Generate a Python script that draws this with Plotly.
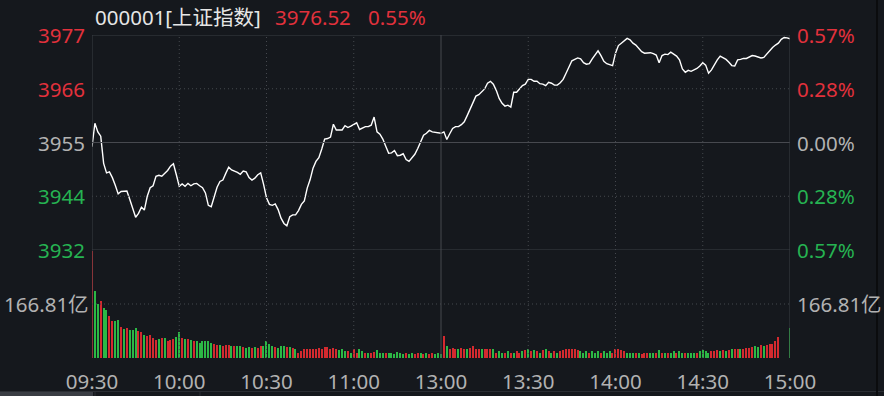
import plotly.graph_objects as go

# ---------------- data ----------------
prev_close = 3954.77
last_price = 3976.52
last_pct = "0.55%"
title_code = "000001[上证指数]"
vol_mid_label = "166.81亿"
vol_mid_value = 166.81

time_labels = ["09:30", "10:00", "10:30", "11:00", "13:00", "13:30", "14:00", "14:30", "15:00"]
time_ticks = [0, 30, 60, 90, 120, 150, 180, 210, 240]

price_labels = ["3977", "3966", "3955", "3944", "3932"]
pct_labels = ["0.57%", "0.28%", "0.00%", "0.28%", "0.57%"]
pct_levels = [0.0057, 0.00285, 0.0, -0.00285, -0.0057]

prices = [
    3953.9, 3958.8, 3957.0, 3956.1, 3950.4, 3948.4, 3948.6, 3947.4, 3945.8, 3944.0,
    3944.5, 3944.5, 3944.6, 3942.8, 3940.8, 3939.1, 3939.9, 3941.2, 3940.6, 3943.5,
    3945.3, 3945.7, 3947.7, 3947.9, 3947.7, 3948.2, 3948.9, 3949.8, 3950.3, 3948.0,
    3945.6, 3946.1, 3945.6, 3946.2, 3945.7, 3946.1, 3946.2, 3945.7, 3945.3, 3944.2,
    3941.6, 3941.3, 3943.2, 3945.4, 3946.6, 3946.9, 3948.3, 3949.6, 3949.0, 3948.8,
    3948.5, 3948.1, 3948.8, 3948.6, 3947.4, 3946.9, 3947.3, 3948.0, 3948.4, 3946.0,
    3943.2, 3941.8, 3941.6, 3941.9, 3940.7, 3938.9, 3937.8, 3937.3, 3939.2, 3939.6,
    3939.6, 3940.5, 3941.8, 3942.5, 3945.2, 3947.0, 3949.4, 3950.8, 3951.6, 3953.4,
    3955.5, 3955.6, 3955.9, 3958.6, 3957.4, 3957.4, 3957.4, 3958.3, 3957.9, 3958.2,
    3958.5, 3958.9, 3957.5, 3957.8, 3958.1, 3958.1, 3958.4, 3960.1, 3957.0, 3956.5,
    3955.5, 3954.0, 3952.5, 3952.6, 3953.1, 3952.0, 3952.1, 3952.4, 3951.2, 3950.8,
    3951.6, 3952.3, 3953.5, 3955.0, 3956.3, 3956.7, 3957.3, 3957.0, 3956.9, 3956.7,
    3956.7, 3957.0, 3955.4, 3956.6, 3957.7, 3958.1, 3958.1, 3958.5, 3959.1, 3960.4,
    3961.8, 3963.4, 3964.5, 3964.8, 3965.4, 3966.0, 3967.2, 3967.6, 3967.0, 3965.7,
    3964.0, 3963.0, 3962.4, 3962.6, 3962.2, 3965.3, 3965.3, 3966.0, 3966.7, 3967.0,
    3968.0, 3968.0, 3967.6, 3967.6, 3967.1, 3967.0, 3966.7, 3967.4, 3967.2, 3966.8,
    3966.8, 3967.3, 3968.0, 3969.3, 3970.8, 3971.9, 3972.2, 3972.5, 3972.3, 3971.5,
    3971.2, 3971.3, 3972.3, 3973.1, 3974.0, 3973.0, 3971.8, 3971.3, 3971.1, 3970.9,
    3973.5, 3975.1, 3975.6, 3976.2, 3976.6, 3976.3, 3975.6, 3975.2, 3974.6, 3973.8,
    3973.5, 3973.6, 3973.6, 3973.4, 3973.1, 3971.5, 3973.0, 3973.3, 3973.2, 3973.7,
    3973.3, 3972.9, 3972.1, 3970.2, 3969.5, 3969.9, 3969.7, 3970.0, 3970.3, 3970.8,
    3971.5, 3971.0, 3969.3, 3970.0, 3971.1, 3972.1, 3972.9, 3972.6, 3972.2, 3971.6,
    3970.9, 3970.8, 3972.1, 3972.2, 3972.4, 3972.4, 3972.7, 3973.0, 3972.9, 3972.7,
    3972.5, 3972.6, 3973.3, 3974.2, 3974.7, 3975.2, 3975.6, 3976.4, 3976.8, 3976.7,
    3976.52,
]

# volume (亿), minute by minute
volumes = [
    330, 206, 167, 175, 154, 149, 131, 115, 113, 116,
    96, 90, 93, 87, 85, 93, 82, 79, 72, 69,
    72, 62, 57, 59, 62, 63, 54, 57, 59, 65,
    80, 62, 59, 59, 57, 54, 51, 46, 54, 51,
    54, 46, 44, 41, 41, 38, 41, 41, 38, 36,
    38, 36, 34, 31, 34, 31, 34, 31, 36, 38,
    54, 44, 38, 34, 31, 36, 36, 34, 34, 31,
    27, 17, 21, 27, 27, 28, 27, 28, 30, 28,
    33, 34, 28, 31, 27, 24, 27, 21, 21, 15,
    27, 17, 27, 21, 17, 15, 17, 18, 24, 17,
    15, 15, 17, 15, 12, 20, 15, 12, 15, 12,
    15, 12, 15, 15, 12, 15, 12, 15, 12, 15,
    12,
    67, 36, 27, 31, 27, 28, 31, 27, 28, 31,
    36, 28, 27, 28, 27, 28, 27, 27, 15, 21,
    17, 17, 21, 17, 17, 21, 17, 21, 24, 27,
    21, 24, 21, 17, 24, 27, 21, 17, 21, 17,
    21, 24, 28, 27, 28, 27, 24, 21, 17, 21,
    17, 21, 17, 21, 17, 21, 17, 21, 17, 28,
    27, 24, 21, 17, 15, 17, 15, 17, 12, 15,
    17, 15, 17, 15, 24, 17, 15, 15, 17, 21,
    17, 21, 17, 17, 15, 17, 17, 17, 21, 24,
    21, 17, 21, 21, 24, 21, 24, 21, 24, 28,
    27, 28, 27, 28, 31, 31, 34, 36, 34, 41,
    38, 41, 44, 44, 51, 65, 0, 0, 0, 93,
]

# 1 = up (red), 0 = down (green)
vol_up = [
    1, 0, 0, 1, 0, 0, 1, 1, 0, 0,
    1, 0, 1, 0, 0, 0, 1, 1, 0, 1,
    1, 1, 1, 0, 1, 0, 1, 1, 1, 0,
    0, 1, 0, 1, 0, 1, 0, 0, 0, 0,
    0, 0, 1, 1, 0, 1, 1, 1, 0, 1,
    0, 0, 1, 0, 0, 1, 0, 1, 1, 0,
    0, 0, 0, 1, 0, 0, 0, 1, 0, 1,
    0, 1, 1, 1, 1, 1, 1, 1, 1, 1,
    1, 1, 1, 1, 1, 0, 0, 0, 1, 0,
    1, 1, 0, 0, 1, 0, 1, 1, 0, 0,
    0, 1, 0, 0, 0, 0, 0, 0, 1, 0,
    0, 1, 1, 0, 1, 0, 1, 1, 0, 0,
    0,
    1, 0, 1, 1, 1, 0, 1, 1, 0, 1,
    1, 1, 1, 0, 1, 1, 1, 0, 1, 0,
    0, 1, 0, 1, 0, 1, 1, 0, 1, 0,
    1, 0, 1, 0, 1, 0, 1, 0, 1, 0,
    1, 1, 1, 1, 1, 1, 1, 0, 0, 0,
    1, 0, 0, 0, 1, 0, 0, 0, 1, 1,
    1, 1, 1, 0, 0, 0, 1, 0, 1, 1,
    1, 0, 0, 1, 0, 1, 0, 1, 0, 0,
    1, 0, 0, 1, 0, 0, 0, 1, 0, 0,
    0, 0, 1, 1, 1, 0, 1, 0, 1, 0,
    1, 1, 0, 1, 1, 1, 1, 0, 0, 1,
    0, 1, 1, 1, 1, 1, 1, 1, 1, 0,
]

# ---------------- style ----------------
BG = "#15181d"
RED = "#e2313c"
GREEN = "#26b352"
GRAY = "#b2b2b2"
GRID = "#3b3e44"
DOTGRID = "#45484e"
BAR_RED = "#d42a2f"
BAR_GREEN = "#2cb845"
FONT = "Noto Sans, Noto Sans CJK SC, sans-serif"
FS = 20.5

W, H = 884, 396
L, R, T, B = 92, 94, 35, 38
PW, PH = W - L - R, H - T - B
split = (358 - 250) / PH

def px(xp):
    return (xp - L) / PW

def py(yp):
    return (H - B - yp) / PH

top = prev_close * (1 + 0.0057)
bot = prev_close * (1 - 0.0057)
n = len(prices)
xs = list(range(n))

fig = go.Figure()

fig.add_trace(go.Bar(
    x=xs, y=volumes, xaxis="x2", yaxis="y2", width=0.42,
    marker=dict(color=[BAR_RED if u else BAR_GREEN for u in vol_up], line=dict(width=0)),
    hoverinfo="skip",
))
fig.add_trace(go.Scatter(
    x=xs, y=prices, mode="lines", line=dict(color="#ffffff", width=1.4),
    xaxis="x", yaxis="y", hoverinfo="skip",
))

shapes = []
# horizontal grid lines (price)
for lvl in pct_levels:
    yv = prev_close * (1 + lvl)
    solid = lvl in (0.0057, 0.0, -0.0057)
    shapes.append(dict(type="line", xref="paper", yref="y", x0=0, x1=1, y0=yv, y1=yv,
                       line=dict(color="#47494f" if lvl == 0 else (GRID if solid else DOTGRID), width=1,
                                 dash="solid" if solid else "1px,3px")))
# volume mid line
shapes.append(dict(type="line", xref="paper", yref="y2", x0=0, x1=1, y0=vol_mid_value, y1=vol_mid_value,
                   line=dict(color=DOTGRID, width=1, dash="1px,3px")))
# vertical grid lines
for t in time_ticks:
    solid = t in (0, 120, 240)
    shapes.append(dict(type="line", xref="x", yref="paper", x0=t, x1=t, y0=0, y1=1,
                       line=dict(color="#47494f" if t == 120 else (GRID if solid else DOTGRID), width=1,
                                 dash="solid" if solid else "1px,3px")))
# frame pieces outside the plot
shapes.append(dict(type="line", xref="paper", yref="paper", x0=px(0), x1=px(W), y0=py(391.5), y1=py(391.5),
                   line=dict(color="#2a2d33", width=1)))
shapes.append(dict(type="rect", xref="paper", yref="paper", x0=px(0), x1=px(93), y0=py(396), y1=py(392),
                   fillcolor="#3a3d44", line=dict(width=0)))
for sx in (95, 200):
    shapes.append(dict(type="line", xref="paper", yref="paper", x0=px(sx), x1=px(sx), y0=py(396), y1=py(392),
                       line=dict(color="#2a2d33", width=1)))
shapes.append(dict(type="line", xref="paper", yref="paper", x0=px(877), x1=px(877), y0=py(0), y1=py(396),
                   line=dict(color="#0b0c0e", width=2)))

annotations = []
price_colors = [RED, RED, GRAY, GREEN, GREEN]
for lab, pl, lvl, col in zip(price_labels, pct_labels, pct_levels, price_colors):
    yv = prev_close * (1 + lvl)
    annotations.append(dict(text=lab, xref="paper", yref="y", x=px(87), y=yv, xanchor="right",
                            yanchor="middle", showarrow=False, font=dict(color=col, size=FS, family=FONT)))
    annotations.append(dict(text=pl, xref="paper", yref="y", x=px(795), y=yv, xanchor="left",
                            yanchor="middle", showarrow=False, font=dict(color=col, size=FS, family=FONT)))
annotations.append(dict(text=vol_mid_label, xref="paper", yref="y2", x=px(91), y=vol_mid_value, xanchor="right",
                        yanchor="middle", showarrow=False, font=dict(color=GRAY, size=FS, family=FONT)))
annotations.append(dict(text=vol_mid_label, xref="paper", yref="y2", x=px(795), y=vol_mid_value, xanchor="left",
                        yanchor="middle", showarrow=False, font=dict(color=GRAY, size=FS, family=FONT)))
# header
annotations.append(dict(text=title_code, xref="paper", yref="paper", x=px(93), y=py(17), xanchor="left",
                        yanchor="middle", showarrow=False, font=dict(color="#e6e6e6", size=FS, family=FONT)))
annotations.append(dict(text=f"{last_price:.2f}", xref="paper", yref="paper", x=px(273), y=py(17), xanchor="left",
                        yanchor="middle", showarrow=False, font=dict(color=RED, size=FS, family=FONT)))
annotations.append(dict(text=last_pct, xref="paper", yref="paper", x=px(366), y=py(17), xanchor="left",
                        yanchor="middle", showarrow=False, font=dict(color=RED, size=FS, family=FONT)))

fig.update_layout(
    width=W, height=H,
    margin=dict(l=L, r=R, t=T, b=B, pad=0, autoexpand=False),
    paper_bgcolor=BG, plot_bgcolor=BG,
    showlegend=False, bargap=0,
    xaxis=dict(domain=[0, 1], range=[0, 240], showgrid=False, zeroline=False, showticklabels=False,
               anchor="y", fixedrange=True, automargin=False),
    yaxis=dict(domain=[split, 1], range=[bot, top], showgrid=False, zeroline=False, showticklabels=False,
               fixedrange=True, automargin=False),
    xaxis2=dict(domain=[0, 1], range=[0, 240], showgrid=False, zeroline=False, anchor="y2",
                tickmode="array", tickvals=time_ticks, ticktext=time_labels, ticks="",
                ticklabelstandoff=9, automargin=False,
                tickfont=dict(color=GRAY, size=FS, family=FONT), fixedrange=True),
    yaxis2=dict(domain=[0, split], range=[0, 2 * vol_mid_value], showgrid=False, zeroline=False,
                showticklabels=False, fixedrange=True, automargin=False),
    shapes=shapes,
    annotations=annotations,
)

fig.write_html("out.html")
